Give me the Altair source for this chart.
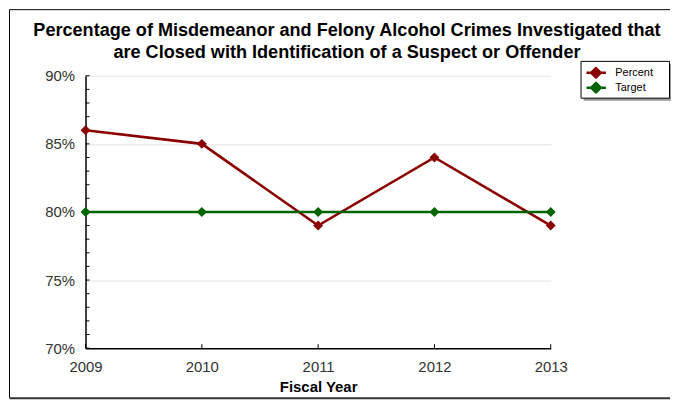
import altair as alt
import pandas as pd

years = [2009, 2010, 2011, 2012, 2013]
percent = [86, 85, 79, 84, 79]
target = [80, 80, 80, 80, 80]
series_names = ["Percent", "Target"]
series_colors = ["#8b0000", "#006400"]
y_major = [70, 75, 80, 85, 90]
y_minor = list(range(70, 91))
title_line1 = "Percentage of Misdemeanor and Felony Alcohol Crimes Investigated that"
title_line2 = "are Closed with Identification of a Suspect or Offender"

rows = []
for y, p in zip(years, percent):
    rows.append({"year": y, "value": p, "series": "Percent"})
for y, t in zip(years, target):
    rows.append({"year": y, "value": t, "series": "Target"})
df = pd.DataFrame(rows)

W, H = 468, 274
FONT = "Liberation Sans"

xscale = alt.Scale(domain=[years[0], years[-1]], nice=False, zero=False)
yscale = alt.Scale(domain=[70, 90], nice=False, zero=False)
sscale = alt.Scale(domain=series_names, range=series_colors)

x_enc = alt.X("year:Q", scale=xscale,
              axis=alt.Axis(values=years, format="d", title="Fiscal Year",
                            labelFontSize=15, labelPadding=12, labelFlush=False,
                            titleFontSize=15, titleFontWeight="bold", titlePadding=5))
y_enc = alt.Y("value:Q", scale=yscale,
              axis=alt.Axis(values=y_major, labelExpr="datum.value + '%'", grid=True,
                            title=None, labelFontSize=15, labelPadding=11, labelFlush=False))

lines = alt.Chart(df).mark_line(strokeWidth=2.6).encode(
    x=x_enc, y=y_enc,
    color=alt.Color("series:N", scale=sscale,
                    legend=alt.Legend(title=None, orient="none", legendX=498, legendY=-15,
                                      padding=6,
                                      labelFont=FONT, labelFontSize=11, labelColor="#000000",
                                      symbolType="M-2.5,0L2.5,0M0,-1.2L1.2,0L0,1.2L-1.2,0Z",
                                      symbolSize=64, symbolStrokeWidth=2.5, symbolOffset=4,
                                      labelOffset=14, rowPadding=3, clipHeight=12)),
)

points = alt.Chart(df).mark_point(shape="diamond", filled=True, size=100, opacity=1).encode(
    x="year:Q", y="value:Q",
    color=alt.Color("series:N", scale=sscale, legend=None),
)

ydf = pd.DataFrame({"v": y_minor})
yticks = alt.Chart(ydf).mark_rule(color="#000000", strokeWidth=1).encode(
    y=alt.Y("v:Q", scale=yscale), x=alt.value(0), x2=alt.value(4))

xdf = pd.DataFrame({"year": years})
xticks = alt.Chart(xdf).mark_rule(color="#000000", strokeWidth=1).encode(
    x=alt.X("year:Q", scale=xscale), y=alt.value(H), y2=alt.value(H - 4))

tdf1 = pd.DataFrame({"t": [title_line1]})
tdf2 = pd.DataFrame({"t": [title_line2]})
tstyle = dict(font=FONT, fontSize=18.2, fontWeight="bold", color="#000000",
              align="center", baseline="middle")
title1 = alt.Chart(tdf1).mark_text(**tstyle).encode(text="t:N", x=alt.value(263), y=alt.value(-45))
title2 = alt.Chart(tdf2).mark_text(**tstyle).encode(text="t:N", x=alt.value(263), y=alt.value(-23))

bdf = pd.DataFrame({"a": [0]})
border_top = alt.Chart(bdf).mark_rule(color="#000000", strokeWidth=1).encode(
    x=alt.value(-76.5), x2=alt.value(588), y=alt.value(-66.5))
border_left = alt.Chart(bdf).mark_rule(color="#000000", strokeWidth=1).encode(
    x=alt.value(-76.5), y=alt.value(-66.5), y2=alt.value(324))
border_bottom = alt.Chart(bdf).mark_rule(color="#333333", strokeWidth=2).encode(
    x=alt.value(-76.5), x2=alt.value(588), y=alt.value(324.5))

legend_shadow = alt.Chart(bdf).mark_rect(color="#999999").encode(
    x=alt.value(501), x2=alt.value(589), y=alt.value(-12), y2=alt.value(25))
legend_box = alt.Chart(bdf).mark_rect(fill="#ffffff", stroke="#000000", strokeWidth=1).encode(
    x=alt.value(498.5), x2=alt.value(587.5), y=alt.value(-14.5), y2=alt.value(22.5))

chart = alt.layer(
    border_top, border_left, border_bottom, yticks, xticks, lines, points,
    legend_shadow, legend_box, title1, title2
).properties(
    width=W, height=H, padding=0, background="#ffffff",
).configure_view(stroke=None).configure_axis(
    grid=False, ticks=False, domainColor="#000000", domainWidth=1.5,
    labelFont=FONT, labelColor="#333333", titleFont=FONT, titleColor="#000000",
    gridColor="#e3e3e3",
)

chart.save("out.html", embed_options={"renderer": "svg", "actions": False})
